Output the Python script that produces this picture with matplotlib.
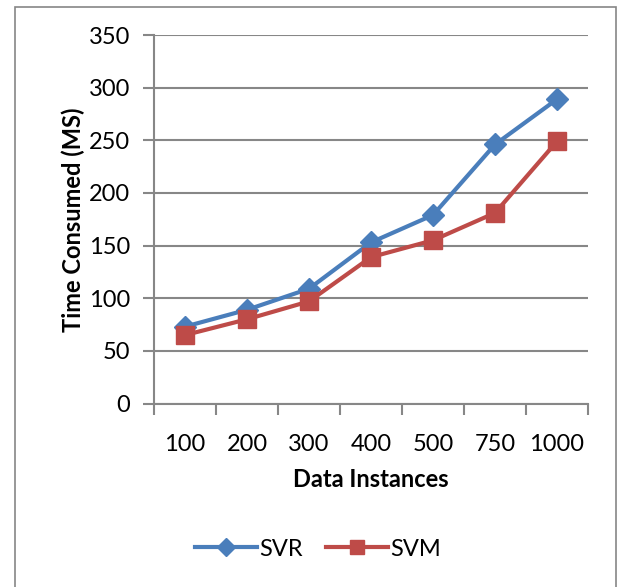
import matplotlib.pyplot as plt
from matplotlib.patches import Rectangle

# data
categories = ["100", "200", "300", "400", "500", "750", "1000"]
svr = [73, 89, 109, 153, 179, 246, 289]
svm = [65, 80, 97, 139, 155, 181, 249]

plt.rcParams['font.family'] = ['Lato', 'DejaVu Sans']

fig = plt.figure(figsize=(6.17, 5.87), dpi=100)
W, H = 617, 587

# outer chart border
fig.patches.append(Rectangle((14.5 / W, -0.01), (616 - 14.5) / W, 1 - 6.5 / H + 0.01,
                             transform=fig.transFigure, fill=False,
                             edgecolor='#868686', linewidth=1.2))

ax = fig.add_axes([154 / W, 1 - 403.5 / H, (588 - 154) / W, (403.5 - 35) / H])

x = list(range(len(categories)))
ax.plot(x, svr, color='#4A7EBB', linewidth=3, marker='D', markersize=11,
        label='SVR', zorder=3)
ax.plot(x, svm, color='#BE4B48', linewidth=3, marker='s', markersize=13,
        label='SVM', zorder=3)

ax.set_xlim(-0.5, len(categories) - 0.5)
ax.set_ylim(0, 350)
ax.set_yticks(range(0, 351, 50))
ax.set_xticks([i - 0.5 for i in range(len(categories) + 1)])
ax.set_xticklabels([])
ax.set_xticks(x, minor=True)
ax.set_xticklabels(categories, minor=True)
ax.tick_params(axis='x', which='minor', length=0, pad=22, labelsize=17)
ax.tick_params(axis='x', which='major', length=8, width=1.5, color='#878787')
ax.tick_params(axis='y', length=8, width=1.5, color='#878787', labelsize=17, pad=9)

ax.grid(axis='y', color='#878787', linewidth=1.5)
ax.set_axisbelow(True)
for side in ['top', 'right']:
    ax.spines[side].set_visible(False)
for side in ['left', 'bottom']:
    ax.spines[side].set_color('#878787')
    ax.spines[side].set_linewidth(1.5)

ax.set_xlabel('Data Instances', fontsize=17, fontweight='bold', labelpad=9)
ax.set_ylabel('Time Consumed (MS)', fontsize=17, fontweight='bold', labelpad=3)

fig.legend(loc='center', bbox_to_anchor=(318 / W, 1 - 549 / H), ncol=2,
           frameon=False, fontsize=17, handlelength=2.6, columnspacing=1.0,
           handletextpad=0.1, markerscale=0.8)

fig.savefig('out.png', dpi=100)
